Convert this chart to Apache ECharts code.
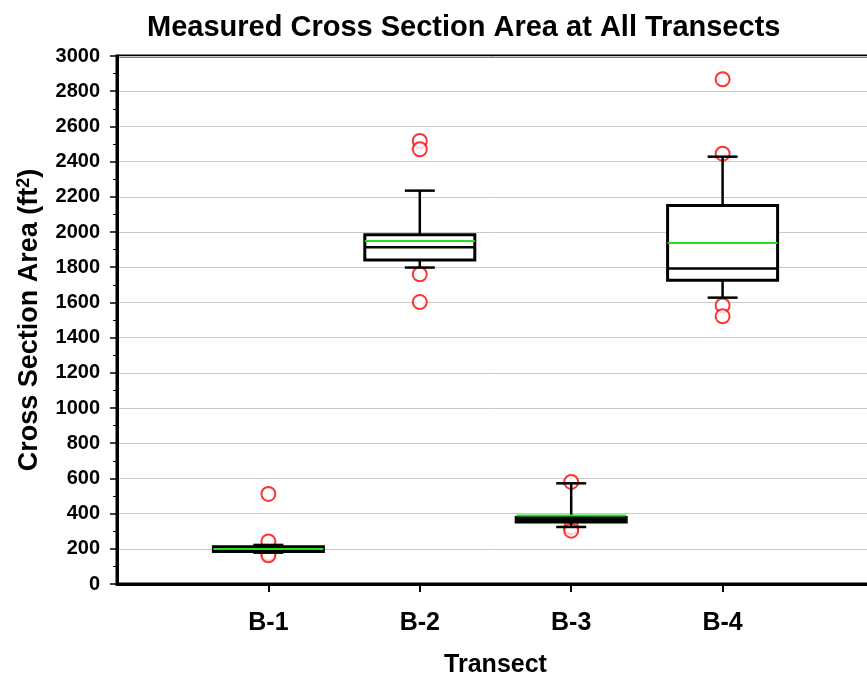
<!DOCTYPE html>
<html>
<head>
<meta charset="utf-8">
<script src="https://cdn.jsdelivr.net/npm/echarts@6/dist/echarts.min.js"></script>
<style>
  html, body { margin: 0; padding: 0; background: #fff; }
  #main { width: 867px; height: 679px; }
</style>
</head>
<body>
<div id="main"></div>
<script>
// transects (blank entries pad the axis at both ends)
var categories = [' ', 'B-1', 'B-2', 'B-3', 'B-4', '  '];
var transects = ['B-1', 'B-2', 'B-3', 'B-4'];

// box statistics, one value per transect
var lowerWhisker = [178, 1798, 324, 1627];
var q1 = [185, 1841, 352, 1726];
var median = [198, 1913, 365, 1792];
var q3 = [211, 1985, 378, 2150];
var upperWhisker = [222, 2235, 572, 2428];
var mean = [199, 1949, 389, 1937];

// outliers per transect
var outliersB1 = [512, 242, 175, 163];
var outliersB2 = [2517, 2470, 1760, 1602];
var outliersB3 = [580, 322, 303];
var outliersB4 = [2868, 2445, 1583, 1521];

var yTicks = { min: 0, max: 3000, interval: 200 };

var boxRows = transects.map(function (t, i) {
    return [t, lowerWhisker[i], q1[i], median[i], q3[i], upperWhisker[i], mean[i]];
});

var outlierPts = [];
[outliersB1, outliersB2, outliersB3, outliersB4].forEach(function (arr, i) {
    arr.forEach(function (v) { outlierPts.push([transects[i], v]); });
});

var FONT = 'Liberation Sans';

var myChart = echarts.init(document.getElementById('main'));

function renderBox(params, api) {
    var x = api.value(0);
    var pLo = api.coord([x, api.value(1)]);
    var pQ1 = api.coord([x, api.value(2)]);
    var pMed = api.coord([x, api.value(3)]);
    var pQ3 = api.coord([x, api.value(4)]);
    var pHi = api.coord([x, api.value(5)]);
    var pMean = api.coord([x, api.value(6)]);
    var cx = pMed[0];
    var halfBox = 55, halfCap = 15;
    var black = { stroke: '#000', lineWidth: 2.5 };
    return {
        type: 'group',
        children: [
            { type: 'line', shape: { x1: cx, y1: pLo[1], x2: cx, y2: pQ1[1] }, style: black },
            { type: 'line', shape: { x1: cx, y1: pQ3[1], x2: cx, y2: pHi[1] }, style: black },
            { type: 'line', shape: { x1: cx - halfCap, y1: pLo[1], x2: cx + halfCap, y2: pLo[1] }, style: black },
            { type: 'line', shape: { x1: cx - halfCap, y1: pHi[1], x2: cx + halfCap, y2: pHi[1] }, style: black },
            { type: 'rect', shape: { x: cx - halfBox, y: pQ3[1], width: halfBox * 2, height: pQ1[1] - pQ3[1] },
              style: { fill: '#fff', stroke: '#000', lineWidth: 3 } },
            { type: 'line', shape: { x1: cx - halfBox, y1: pMed[1], x2: cx + halfBox, y2: pMed[1] }, style: black },
            { type: 'line', shape: { x1: cx - halfBox, y1: pMean[1], x2: cx + halfBox, y2: pMean[1] },
              style: { stroke: '#22e022', lineWidth: 2 } }
        ]
    };
}

myChart.setOption({
    animation: false,
    title: {
        text: 'Measured Cross Section Area at All Transects',
        left: 142,
        top: 8,
        textStyle: { fontFamily: FONT, fontWeight: 'bold', fontSize: 29, color: '#000' }
    },
    grid: {
        left: 117, top: 56, right: -7, bottom: 95,
        outerBoundsMode: 'none',
        containLabel: false,
        show: true, borderColor: '#000', borderWidth: 3
    },
    xAxis: {
        type: 'category',
        data: categories,
        boundaryGap: false,
        name: 'Transect',
        nameLocation: 'middle',
        nameGap: 69,
        nameTextStyle: { fontFamily: FONT, fontWeight: 'bold', fontSize: 25, color: '#000' },
        axisLine: { lineStyle: { color: '#000', width: 3 } },
        axisTick: {
            interval: function (i, v) { return v.trim() !== ''; },
            length: 8,
            lineStyle: { color: '#000', width: 2 }
        },
        axisLabel: {
            interval: 0,
            margin: 27,
            fontFamily: FONT, fontWeight: 'bold', fontSize: 25, color: '#000'
        },
        splitLine: { show: false }
    },
    yAxis: {
        type: 'value',
        min: yTicks.min,
        max: yTicks.max,
        interval: yTicks.interval,
        name: 'Cross Section Area (ft{sup|2})',
        nameLocation: 'middle',
        nameGap: 72,
        nameRotate: 90,
        nameTextStyle: {
            fontFamily: FONT, fontWeight: 'bold', fontSize: 27, color: '#000',
            rich: { sup: { fontFamily: FONT, fontWeight: 'bold', fontSize: 18, color: '#000', verticalAlign: 'top', padding: [0, 0, 12, 0] } }
        },
        axisLine: { show: true, lineStyle: { color: '#000', width: 3 } },
        axisTick: { show: true, length: 7, lineStyle: { color: '#000', width: 1.5 } },
        minorTick: { show: true, splitNumber: 2, length: 4, lineStyle: { color: '#000', width: 1 } },
        axisLabel: {
            margin: 17, fontFamily: FONT, fontWeight: 'bold', fontSize: 20, color: '#000',
            formatter: function (v) { return String(v); }
        },
        splitLine: { show: true, lineStyle: { color: '#c8c8c8', width: 1 } }
    },
    series: [
        {
            type: 'scatter',
            data: outlierPts,
            symbol: 'emptyCircle',
            symbolSize: 14,
            itemStyle: { color: '#ff0000', borderColor: '#ff0000', borderWidth: 1.6 },
            z: 2
        },
        {
            type: 'custom',
            data: boxRows,
            renderItem: renderBox,
            encode: { x: 0, y: [1, 2, 3, 4, 5, 6] },
            z: 3
        }
    ]
});
</script>
</body>
</html>
